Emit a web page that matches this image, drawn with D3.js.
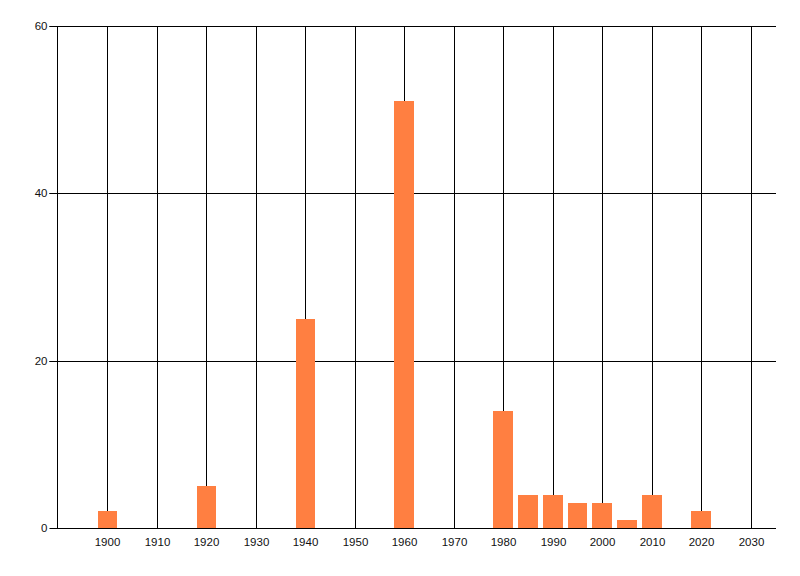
<!DOCTYPE html>
<html>
<head>
<meta charset="utf-8">
<script src="https://cdn.jsdelivr.net/npm/d3@7"></script>
<style>
  html, body { margin: 0; padding: 0; background: #fff; }
  svg { display: block; }
  text { font-family: "Liberation Sans", Arial, sans-serif; font-size: 11.5px; fill: #111; }
</style>
</head>
<body>
<svg id="chart" width="800" height="576"></svg>
<script>
// Data
const years  = [1900, 1920, 1940, 1960, 1980, 1985, 1990, 1995, 2000, 2005, 2010, 2020];
const counts = [2, 5, 25, 51, 14, 4, 4, 3, 3, 1, 4, 2];
const xTicks = [1900, 1910, 1920, 1930, 1940, 1950, 1960, 1970, 1980, 1990, 2000, 2010, 2020, 2030];
const yTicks = [0, 20, 40, 60];
const barSpan = 4; // years covered by each bar

const W = 800, H = 576;
const margin = { left: 57, right: 24, top: 26, bottom: 48 };

const svg = d3.select("#chart");

const x = d3.scaleLinear().domain([1889.8, 2035.1]).range([margin.left, W - margin.right]);
const y = d3.scaleLinear().domain([0, 60]).range([H - margin.bottom, margin.top]);

const px = v => Math.round(v) + 0.5;

// vertical grid lines
svg.append("g").selectAll("line").data(xTicks).join("line")
  .attr("x1", d => px(x(d))).attr("x2", d => px(x(d)))
  .attr("y1", px(y(0))).attr("y2", px(y(60)))
  .attr("stroke", "#000").attr("stroke-width", 1);

// horizontal grid lines
svg.append("g").selectAll("line").data(yTicks.filter(d => d > 0)).join("line")
  .attr("x1", px(x.range()[0]) - 8).attr("x2", x.range()[1])
  .attr("y1", d => px(y(d))).attr("y2", d => px(y(d)))
  .attr("stroke", "#000").attr("stroke-width", 1);

// bars
svg.append("g").selectAll("rect").data(years).join("rect")
  .attr("x", (d) => Math.round(x(d - barSpan / 2)))
  .attr("width", (d) => Math.round(x(d + barSpan / 2)) - Math.round(x(d - barSpan / 2)))
  .attr("y", (d, i) => Math.round(y(counts[i])))
  .attr("height", (d, i) => Math.round(y(0)) - Math.round(y(counts[i])))
  .attr("fill", "#ff7f41");

// y axis
const yAxis = d3.axisLeft(y).tickValues(yTicks).tickSize(8).tickPadding(2).tickFormat(d3.format("d"));
const gy = svg.append("g").attr("transform", `translate(${px(x.range()[0])},0)`).call(yAxis);
gy.select(".domain").remove();
gy.selectAll(".tick line").attr("stroke", "#000");
gy.selectAll(".tick").attr("transform", d => `translate(0,${px(y(d))})`);
gy.selectAll("text").attr("font-size", null).attr("font-family", null).attr("fill", "#111");
svg.append("line")
  .attr("x1", px(x.range()[0])).attr("x2", px(x.range()[0]))
  .attr("y1", px(y(60))).attr("y2", px(y(0)))
  .attr("stroke", "#000");

// x axis
const xAxis = d3.axisBottom(x).tickValues(xTicks).tickSize(0).tickPadding(9).tickFormat(d3.format("d"));
const gx = svg.append("g").attr("transform", `translate(0,${px(y(0))})`).call(xAxis);
gx.select(".domain").remove();
gx.selectAll(".tick").attr("transform", d => `translate(${px(x(d))},0)`);
gx.selectAll("text").attr("font-size", null).attr("font-family", null).attr("fill", "#111");
svg.append("line")
  .attr("x1", x.range()[0]).attr("x2", x.range()[1])
  .attr("y1", px(y(0))).attr("y2", px(y(0)))
  .attr("stroke", "#000");
</script>
</body>
</html>
